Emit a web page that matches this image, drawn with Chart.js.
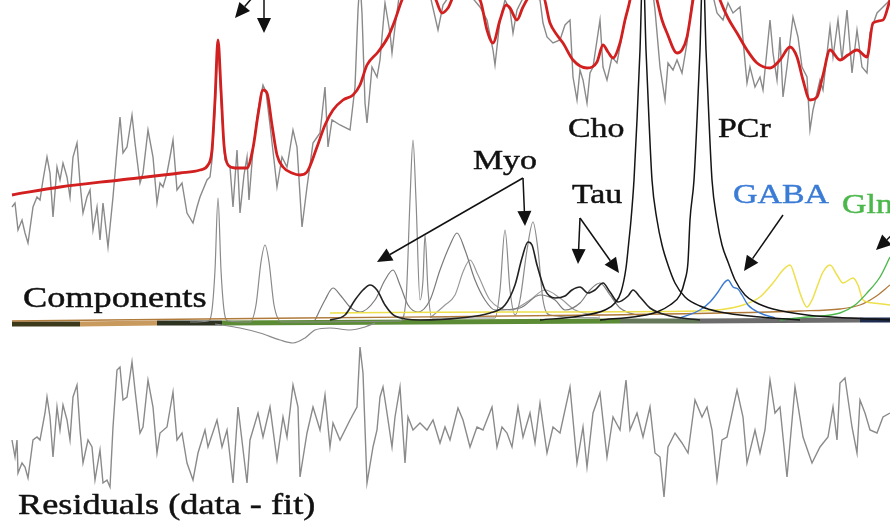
<!DOCTYPE html>
<html>
<head>
<meta charset="utf-8">
<script src="https://cdn.jsdelivr.net/npm/chart.js@4.4.0/dist/chart.umd.min.js"></script>
<style>
  html, body { margin: 0; padding: 0; background: #fff; }
  #wrap { width: 890px; height: 522px; position: relative; }
  #spectrum { filter: blur(0.45px); }
</style>
</head>
<body>
<div id="wrap"><canvas id="spectrum"></canvas></div>
<script>
// Traces as [position, depth] pairs (depth axis runs downward)
const RAW_DATA = [
  [12,207],[15,203],[18,230],[22,220],[25,233],[28,243],[33,207],[37,197],[40,200],[43,180],[47,157],[50,173],
  [53,217],[57,167],[60,180],[63,163],[67,177],[70,197],[73,157],[77,143],[80,183],[83,213],[87,197],[90,190],
  [93,230],[97,207],[100,240],[103,203],[108,247],[113,197],[117,150],[120,117],[123,153],[127,147],[132,115],
  [135,143],[140,183],[143,173],[148,130],[153,157],[157,203],[160,183],[163,187],[167,173],[170,157],[173,140],
  [177,190],[182,183],[187,213],[193,223],[197,207],[200,197],[207,180],[210,177],[212,160],[215,110],[218,40],
  [221,100],[225,160],[230,167],[233,207],[237,150],[240,213],[244,175],[247,157],[249,200],[253,150],[258,110],
  [263,85],[266,92],[270,125],[274,160],[277,187],[282,157],[287,167],[293,130],[297,147],[302,227],[307,187],
  [313,143],[320,133],[325,87],[328,147],[332,120],[340,125],[350,130],[355,87],[358,10],[360,-20],[362,13],
  [365,103],[367,123],[372,67],[377,77],[380,60],[385,3],[390,33],[392,53],[395,27],[400,-10],[410,-20],[420,-10],
  [430,-5],[438,30],[443,5],[450,-5],[470,-5],[480,7],[487,20],[493,50],[495,65],[500,20],[505,0],[510,10],
  [513,33],[517,10],[522,0],[530,-5],[540,0],[543,23],[547,37],[553,43],[560,40],[565,25],[570,20],[573,77],
  [577,100],[580,70],[583,80],[587,103],[590,73],[593,67],[600,20],[603,67],[607,80],[612,57],[617,63],[623,30],
  [630,0],[636,-30],[643,-60],[650,-30],[655,10],[660,67],[665,100],[668,63],[673,70],[677,60],[682,73],[687,43],
  [692,0],[697,-30],[703,-60],[710,-30],[714,0],[717,13],[723,20],[728,3],[733,13],[740,7],[747,83],[750,67],
  [755,87],[760,77],[763,90],[770,20],[773,53],[777,80],[780,37],[783,97],[787,67],[793,17],[798,37],[802,67],
  [807,77],[810,130],[813,110],[820,80],[823,90],[830,27],[833,57],[838,20],[842,60],[847,10],[852,73],[857,30],
  [862,67],[867,73],[870,33],[877,13],[883,7],[890,0]
];

const FIT = [
  [12,195],[60,187],[120,180],[180,173],[200,170],[208,165],[212,150],[215,100],[218,40],[221,90],[224,145],
  [228,165],[235,168],[247,168],[253,148],[258,115],[263,90],[267,93],[272,125],[277,155],[283,167],[292,173],
  [300,175],[307,172],[317,147],[325,125],[333,110],[343,100],[353,95],[360,85],[367,65],[378,52],[388,37],
  [395,20],[402,0],[410,-15],[425,-10],[435,-2],[442,13],[448,8],[455,-5],[470,-5],[480,0],[487,30],[493,43],
  [500,20],[506,5],[510,8],[517,20],[523,7],[530,-3],[543,-3],[550,23],[557,35],[563,43],[573,60],[587,68],
  [597,62],[603,45],[608,52],[613,58],[620,43],[625,20],[630,0],[635,-30],[643,-60],[650,-30],[657,0],[662,20],
  [667,33],[677,53],[682,50],[687,37],[693,0],[698,-30],[703,-60],[710,-30],[720,0],[728,18],[737,33],[747,50],
  [757,63],[770,68],[780,60],[790,47],[797,57],[803,80],[810,100],[817,97],[823,75],[830,50],[840,60],[848,55],
  [857,50],[867,57],[873,23],[883,20],[890,0]
];

const RESIDUALS = [
  [12,440],[15,457],[17,440],[18,473],[22,463],[25,467],[28,478],[33,440],[37,437],[40,440],[45,413],[47,397],
  [50,417],[53,457],[57,407],[60,430],[63,405],[67,420],[70,440],[73,397],[77,385],[80,430],[83,463],[88,440],
  [92,447],[95,480],[100,450],[103,483],[107,480],[110,487],[113,427],[117,370],[120,367],[123,400],[127,397],
  [132,362],[135,390],[140,433],[143,427],[148,380],[153,407],[157,453],[160,433],[167,427],[173,392],[175,417],
  [177,440],[182,433],[187,463],[193,480],[198,453],[205,430],[208,447],[217,420],[222,447],[227,430],[233,483],
  [238,407],[247,483],[250,440],[258,413],[263,437],[270,407],[277,460],[283,417],[287,437],[293,385],[298,407],
  [300,477],[307,433],[313,407],[320,430],[325,395],[330,447],[333,423],[340,440],[350,420],[357,407],[360,347],
  [363,373],[367,483],[373,447],[377,430],[380,397],[383,387],[387,413],[392,447],[395,417],[400,387],[405,463],
  [408,417],[413,430],[420,423],[427,430],[433,420],[440,443],[445,427],[450,440],[458,408],[463,420],[470,447],
  [477,427],[483,430],[492,407],[497,447],[502,427],[507,433],[512,447],[518,407],[523,437],[530,413],[535,443],
  [540,403],[547,453],[553,427],[560,433],[570,387],[577,463],[583,427],[587,467],[593,413],[600,393],[607,457],
  [613,417],[620,430],[626,380],[630,430],[637,413],[643,437],[650,407],[655,453],[660,457],[664,497],[668,447],
  [675,433],[682,443],[688,453],[695,400],[702,417],[707,407],[712,430],[717,480],[722,440],[727,437],[737,390],
  [743,417],[747,463],[755,430],[760,453],[765,430],[770,380],[775,413],[780,407],[787,477],[795,387],[803,437],
  [812,463],[820,447],[828,437],[833,407],[837,440],[840,383],[845,378],[852,427],[857,453],[860,400],[865,413],
  [870,430],[877,433],[883,417],[890,413]
];

// Fitted components
const COMP_NARROW = [
  [190,322],[208,321],[212,310],[215,270],[218,198],[221,270],[224,310],[228,321],[250,322],[256,305],[261,262],
  [265,245],[269,262],[274,305],[282,322],[400,321],[406,300],[410,200],[413,140],[416,200],[420,300],[423,280],
  [425,235],[428,290],[432,318],[495,318],[500,290],[505,230],[510,290],[515,315],[520,300],[527,250],[533,222],
  [538,250],[543,300],[550,315],[600,318]
];
const COMP_WIDE = [
  [315,320],[325,300],[333,288],[341,296],[350,307],[360,312],[375,300],[385,280],[393,270],[400,285],[408,305],
  [418,312],[430,300],[440,270],[450,245],[457,233],[465,250],[475,280],[485,300],[495,310],[520,308],[540,295],
  [555,300],[565,310],[580,303],[590,290],[600,283],[610,295],[620,308],[640,316]
];
const COMP_WIDE2 = [
  [430,318],[445,305],[455,295],[463,272],[470,260],[478,275],[490,300],[510,310],[530,300],[545,290],[560,298],
  [575,310],[600,316]
];
const COMP_NEG = [
  [215,324],[240,328],[260,333],[280,340],[293,343],[305,338],[315,330],[330,328],[350,330],[365,327],[375,323]
];
const MYO = [
  [330,320],[345,315],[355,300],[363,290],[370,285],[377,290],[385,305],[395,316],[420,320],[460,318],[490,313],
  [505,305],[515,285],[522,258],[528,242],[532,245],[537,265],[545,290],[555,298],[565,296],[572,290],[580,287],
  [588,293],[595,290],[603,283],[610,292],[618,302],[628,296],[633,290],[640,297],[650,308],[670,316],[700,320]
];
const CHO = [
  [540,320],[580,316],[605,310],[615,303],[621,292],[626,268],[629,240],[631,220],[634,180],[637,120],[640,50],
  [643,-40],[646,50],[649,120],[652,180],[657,220],[662,245],[668,265],[675,283],[685,297],[700,306],[720,312],
  [760,317],[800,320]
];
const PCR = [
  [600,320],[640,316],[657,312],[670,305],[680,295],[685,280],[688,262],[690,220],[694,180],[697,120],[700,50],
  [703,-40],[706,50],[709,120],[712,180],[717,220],[722,245],[728,262],[735,280],[745,295],[755,302],[773,309],
  [807,315],[850,318],[890,320]
];
const GABA = [
  [680,318],[700,310],[710,302],[718,292],[724,283],[728,280],[733,287],[738,289],[742,295],[748,305],[760,313],
  [775,318]
];
const GLU = [
  [330,313],[500,312],[700,311],[740,306],[760,297],[773,283],[783,270],[790,265],[796,280],[800,293],[807,307],
  [812,300],[817,287],[823,272],[830,265],[837,275],[843,283],[853,278],[858,285],[863,300],[873,303],[890,305]
];
const GLN = [[780,320],[807,317],[840,313],[855,305],[867,293],[880,277],[890,257]];
const MACRO = [[12,321],[300,318],[600,315],[800,311],[840,309],[860,305],[875,297],[890,285]];

// Baseline stripe: break positions and level
const STRIPE_X = [12, 80, 157, 222, 620, 700, 860, 890];
const STRIPE_Y = [324, 324, 323, 323, 321, 321, 320, 320];

// Annotations
const LABEL_TEXT = ['Myo', 'Cho', 'PCr', 'Tau', 'GABA', 'Gln', 'Components', 'Residuals (data - fit)'];
const LABEL_AT = [[473,169],[568,137],[718,137],[572,203],[733,203],[842,213],[23,307],[18,514]];
const ARROW_FROM = [[252,-2],[264,0],[523,178],[523,178],[580,218],[580,218],[783,215],[893,234]];
const ARROW_TO = [[235,18],[264,33],[377,262],[525,226],[578,264],[619,273],[744,271],[876,250]];

// styles
const STRIPE_COLORS = ['#3d3a1c', '#c89a5e', '#2d3320', '#5b8c35', '#66785a', '#6c6c6c', '#1d2b4d'];
const LABEL_COLORS = ['#111', '#111', '#111', '#111', '#3a7bd5', '#4cb84c', '#111', '#111'];

const pts = arr => arr.map(p => ({ x: p[0], y: p[1] }));

function trace(data, color, width, smooth) {
  return {
    data: pts(data),
    borderColor: color,
    borderWidth: width,
    pointRadius: 0,
    fill: false,
    cubicInterpolationMode: smooth ? 'monotone' : 'default',
    tension: 0,
  };
}

const datasets = [
  trace(FIT, '#d21f1f', 2.8, true),
  trace(CHO, '#151515', 1.5, true),
  trace(PCR, '#151515', 1.5, true),
  trace(MYO, '#222', 1.6, true),
  trace(GABA, '#3a7bd5', 1.4, true),
  trace(GLN, '#4cb84c', 1.4, true),
  trace(GLU, '#ede04a', 1.5, true),
  trace(MACRO, '#b07a3a', 1.3, true),
  trace(COMP_NARROW, '#8a8a8a', 1.2, true),
  trace(COMP_WIDE, '#7a7a7a', 1.2, true),
  trace(COMP_WIDE2, '#9a9a9a', 1.2, true),
  trace(COMP_NEG, '#8a8a8a', 1.2, true),
  trace(RAW_DATA, '#8a8a8a', 1.4, false),
  trace(RESIDUALS, '#8a8a8a', 1.4, false),
];

// thick coloured stripe under the components
for (let i = 0; i < STRIPE_X.length - 1; i++) {
  const seg = [[STRIPE_X[i], STRIPE_Y[i]], [STRIPE_X[i + 1], STRIPE_Y[i + 1]]];
  const ds = trace(seg, STRIPE_COLORS[i], 5, false);
  ds.borderCapStyle = 'butt';
  datasets.push(ds);
}

function drawArrow(ctx, x0, y0, x1, y1) {
  const ang = Math.atan2(y1 - y0, x1 - x0);
  const len = 15, half = 7;
  const bx = x1 - len * Math.cos(ang), by = y1 - len * Math.sin(ang);
  ctx.beginPath();
  ctx.moveTo(x0, y0);
  ctx.lineTo(bx, by);
  ctx.stroke();
  ctx.beginPath();
  ctx.moveTo(x1, y1);
  ctx.lineTo(bx + half * Math.sin(ang), by - half * Math.cos(ang));
  ctx.lineTo(bx - half * Math.sin(ang), by + half * Math.cos(ang));
  ctx.closePath();
  ctx.fill();
}

const annotations = {
  id: 'annotations',
  afterDatasetsDraw(chart) {
    const { ctx, scales: { x, y } } = chart;
    ctx.save();
    ctx.strokeStyle = '#111';
    ctx.fillStyle = '#111';
    ctx.lineWidth = 1.5;
    ARROW_FROM.forEach((a, i) => {
      const b = ARROW_TO[i];
      drawArrow(ctx, x.getPixelForValue(a[0]), y.getPixelForValue(a[1]),
        x.getPixelForValue(b[0]), y.getPixelForValue(b[1]));
    });
    LABEL_TEXT.forEach((t, i) => {
      const px = x.getPixelForValue(LABEL_AT[i][0]);
      const py = y.getPixelForValue(LABEL_AT[i][1]);
      const size = i >= 6 ? 30 : 28;
      ctx.save();
      ctx.translate(px, py);
      ctx.scale(1.21, 1);
      ctx.font = size + 'px "Liberation Serif", serif';
      ctx.fillStyle = LABEL_COLORS[i];
      ctx.strokeStyle = LABEL_COLORS[i];
      ctx.lineWidth = 0.45;
      ctx.textBaseline = 'alphabetic';
      ctx.fillText(t, 0, 0);
      ctx.strokeText(t, 0, 0);
      ctx.restore();
    });
    ctx.restore();
  }
};

new Chart(document.getElementById('spectrum'), {
  type: 'line',
  data: { datasets },
  options: {
    responsive: true,
    maintainAspectRatio: false,
    animation: false,
    layout: { padding: 0 },
    plugins: { legend: { display: false }, tooltip: { enabled: false } },
    scales: {
      x: { type: 'linear', min: 0, max: 890, display: false },
      y: { type: 'linear', min: 0, max: 522, reverse: true, display: false }
    }
  },
  plugins: [annotations]
});
</script>
</body>
</html>
